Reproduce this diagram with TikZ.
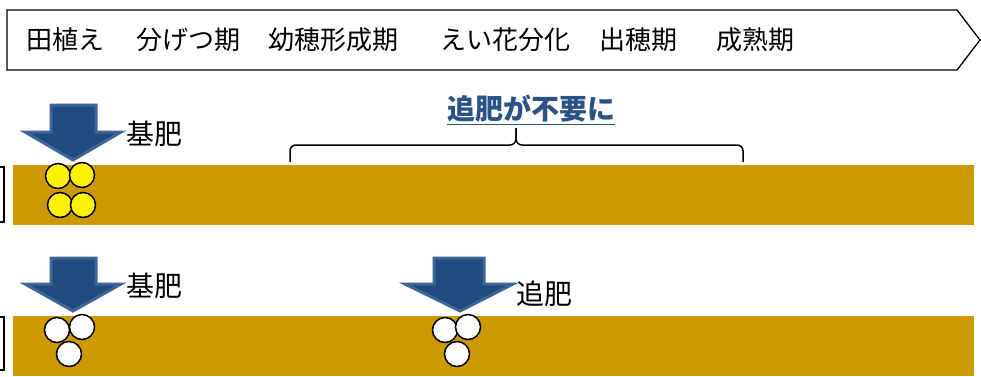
\documentclass[tikz,border=0pt]{standalone}
\usepackage{fontspec}
\setmainfont{Noto Sans CJK JP}
\definecolor{soil}{HTML}{CC9900}
\definecolor{arrowfill}{HTML}{214B7E}
\definecolor{arrowline}{HTML}{3E6596}
\definecolor{notecol}{HTML}{2A5285}
\tikzset{
  stage/.style={anchor=west,inner sep=0pt,font=\fontsize{26}{26}\selectfont},
  fertlabel/.style={anchor=west,inner sep=0pt,font=\fontsize{28}{28}\selectfont},
  fertarrow/.style={fill=arrowfill,draw=arrowline,line width=3pt,line join=miter},
  soilbar/.style={fill=soil,draw=none},
  ball/.style={circle,draw=black,line width=1.5pt,minimum size=25pt,inner sep=0pt},
  yellowball/.style={ball,fill=yellow},
  whiteball/.style={ball,fill=white}
}
\begin{document}
\begin{tikzpicture}[x=1pt,y=-1pt]
      \useasboundingbox (0,0) rectangle (981,376);
      % growth stages
      \draw[line width=1.3pt] (7,10) -- (957,10) -- (980,40) -- (957,70) -- (7,70) -- cycle;
      \draw
        (26,40) node[stage] (taue){田植え}
        (136,40) node[stage] (bunketsu){分げつ期}
        (268,40) node[stage] (youhou){幼穂形成期}
        (440,40) node[stage] (eika){えい花分化}
        (599,40) node[stage] (shussui){出穂期}
        (716,40) node[stage] (seijuku){成熟期};
      % upper row
      \fill[soilbar] (13,165) rectangle (974,225);
      \draw[line width=1.3pt] (-20,167) rectangle (4,222);
      \draw[fertarrow] (51,105) -- (96,105) -- (96,132) -- (121,132) -- (73,160)
        -- (25,132) -- (51,132) -- cycle;
      \draw
        (126,134) node[fertlabel] (kihi1){基肥}
        (58,176) node[yellowball] (y1){}
        (82,175) node[yellowball] (y2){}
        (60,205) node[yellowball] (y3){}
        (83,205) node[yellowball] (y4){};
      \draw[line width=1.5pt,rounded corners=6pt]
        (290,162) -- (290,145) -- (516,145) -- (516,128);
      \draw[line width=1.5pt,rounded corners=6pt]
        (516,128) -- (516,145) -- (743,145) -- (743,162);
      \node[inner sep=0pt,text=notecol,font=\fontsize{28}{28}\selectfont\bfseries]
        (fuyou) at (531,110) {\underline{追肥が不要に}};
      % lower row
      \fill[soilbar] (13,316) rectangle (974,376);
      \draw[line width=1.3pt] (-20,317) rectangle (4,370);
      \draw[fertarrow] (51,258) -- (96,258) -- (96,284) -- (121,284) -- (73,311)
        -- (25,284) -- (51,284) -- cycle;
      \draw[fertarrow] (434,258) -- (484,258) -- (484,284) -- (513,284) -- (460,311)
        -- (405,284) -- (434,284) -- cycle;
      \draw
        (126,286) node[fertlabel] (kihi2){基肥}
        (516,294) node[fertlabel] (tsuihi){追肥}
        (57,330) node[whiteball] (a1){}
        (82,327) node[whiteball] (a2){}
        (69,354) node[whiteball] (a3){}
        (445,330) node[whiteball] (b1){}
        (468,327) node[whiteball] (b2){}
        (457,354) node[whiteball] (b3){};
    \end{tikzpicture}
\end{document}
